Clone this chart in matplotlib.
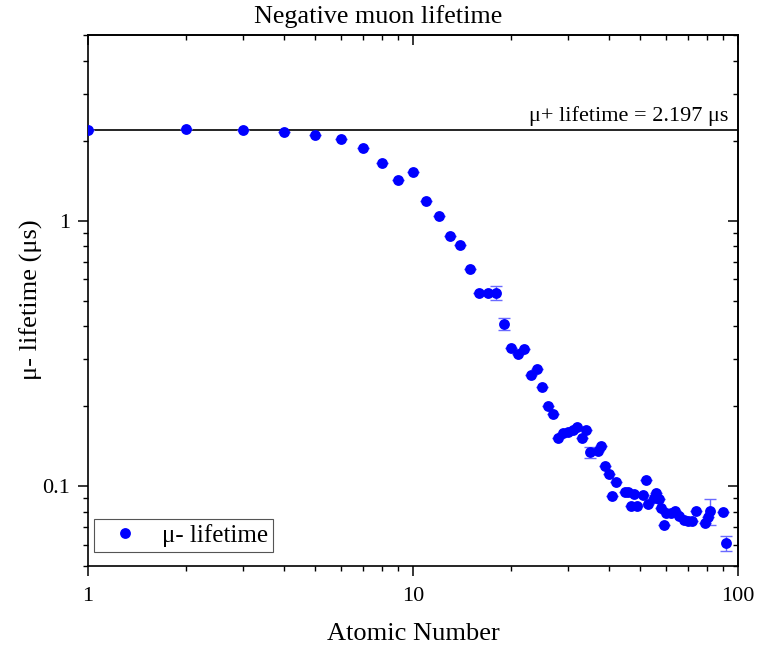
import matplotlib
matplotlib.use("Agg")
import matplotlib.pyplot as plt
from matplotlib.ticker import LogLocator, NullFormatter, FuncFormatter

plt.rcParams['font.family'] = ['Liberation Serif', 'DejaVu Serif']

# Negative muon lifetime by atomic number (microseconds)
atomic_number = [1, 2, 3, 4, 5, 6, 7, 8, 9, 10,
                 11, 12, 13, 14, 15, 16, 17, 18, 19, 20,
                 21, 22, 23, 24, 25, 26, 27, 28, 29, 30,
                 31, 32, 33, 34, 35, 37, 38, 39, 40, 41,
                 42, 45, 46, 47, 48, 49, 51, 52, 53, 55,
                 56, 57, 58, 59, 60, 62, 64, 66, 68, 70,
                 72, 74, 79, 81, 82, 90, 92]
lifetime = [2.195, 2.21, 2.19, 2.15, 2.10, 2.03, 1.87, 1.65, 1.42, 1.52,
            1.19, 1.04, 0.877, 0.811, 0.657, 0.535, 0.535, 0.535, 0.407, 0.331,
            0.314, 0.329, 0.263, 0.275, 0.237, 0.200, 0.187, 0.152, 0.159, 0.160,
            0.162, 0.167, 0.152, 0.163, 0.134, 0.136, 0.142, 0.119, 0.111, 0.0917,
            0.104, 0.0953, 0.0953, 0.0839, 0.093, 0.0839, 0.0927, 0.105, 0.0859, 0.0902,
            0.0943, 0.0893, 0.0829, 0.0712, 0.0793, 0.0793, 0.0805, 0.0771, 0.0745, 0.0741,
            0.0741, 0.0805, 0.0728, 0.0765, 0.0805, 0.0798, 0.0609]
lifetime_err = [0, 0, 0, 0, 0, 0, 0, 0, 0, 0,
                0, 0, 0, 0, 0, 0, 0, 0.034, 0.021, 0,
                0, 0, 0, 0, 0, 0, 0, 0, 0, 0,
                0, 0, 0, 0, 0.006, 0, 0, 0, 0, 0,
                0, 0, 0, 0, 0, 0, 0, 0, 0, 0,
                0, 0, 0, 0, 0, 0, 0, 0, 0, 0,
                0, 0, 0, 0, 0.009, 0, 0.0038]

mu_plus_lifetime = 2.197

W, H = 757, 646
fig = plt.figure(figsize=(W / 100, H / 100), dpi=100)
ax = fig.add_axes([88 / W, 1 - 566 / H, 650 / W, 531 / H])

ax.set_xscale('log')
ax.set_yscale('log')
ax.set_xlim(1, 100)
ax.set_ylim(0.05, 5)

ax.axhline(mu_plus_lifetime, color='black', lw=1.2, zorder=1)
ax.text(1 - 10 / 650, mu_plus_lifetime * 10 ** (9 / 264), 'μ+ lifetime = 2.197 μs',
        transform=ax.get_yaxis_transform(), ha='right', va='baseline', fontsize=16)

ax.errorbar(atomic_number, lifetime, yerr=lifetime_err, fmt='none',
            ecolor='#6a6aff', elinewidth=1.0, capsize=4.5, capthick=1.0, zorder=2)
ax.plot(atomic_number, lifetime, 'o', color='#0000ff', markersize=7.8,
        markeredgewidth=0, label='μ- lifetime', zorder=3)

fmt = FuncFormatter(lambda v, p: '%g' % v)
for axis in (ax.xaxis, ax.yaxis):
    axis.set_major_locator(LogLocator(base=10))
    axis.set_minor_locator(LogLocator(base=10, subs=range(2, 10)))
    axis.set_major_formatter(fmt)
    axis.set_minor_formatter(NullFormatter())

ax.tick_params(which='major', direction='out', length=7, width=1.1, labelsize=16)
ax.tick_params(axis='y', which='major', pad=6)
ax.tick_params(axis='x', which='major', pad=8)
ax.tick_params(which='minor', direction='out', length=3.8, width=1.0)

# mirrored axes on top and right with inward ticks
top = ax.secondary_xaxis('top')
right = ax.secondary_yaxis('right')
for sec, axis in ((top, top.xaxis), (right, right.yaxis)):
    axis.set_major_locator(LogLocator(base=10))
    axis.set_minor_locator(LogLocator(base=10, subs=range(2, 10)))
    axis.set_major_formatter(NullFormatter())
    axis.set_minor_formatter(NullFormatter())
    sec.tick_params(which='major', direction='in', length=7, width=1.1)
    sec.tick_params(which='minor', direction='in', length=3.8, width=1.0)
    for s in sec.spines.values():
        s.set_linewidth(1.2)

for s in ax.spines.values():
    s.set_linewidth(1.2)

fig.text(413 / W, 1 - 634 / H, 'Atomic Number', ha='center', va='center', fontsize=19)
fig.text(31 / W, 1 - 300 / H, 'μ- lifetime (μs)', ha='center', va='center',
         rotation=90, fontsize=19)
fig.text(0.5, 1 - 17 / H, 'Negative muon lifetime', ha='center', va='center', fontsize=18.8)

leg = ax.legend(loc='lower left', bbox_to_anchor=(6 / 650, 14 / 531), borderaxespad=0,
                fontsize=18, frameon=True, fancybox=False, edgecolor='#555555',
                framealpha=1, borderpad=0.2, handlelength=2.1, handletextpad=0.4)
leg.get_frame().set_linewidth(0.8)

fig.savefig('out.png', dpi=100)
